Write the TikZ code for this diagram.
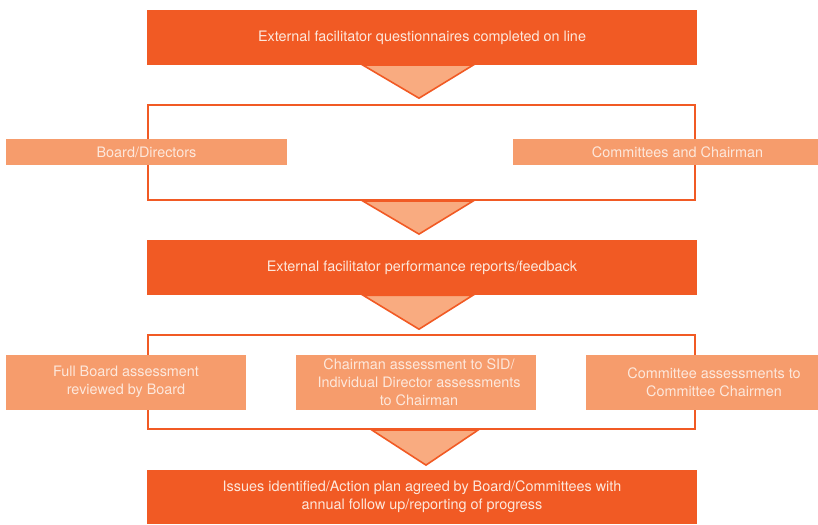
\documentclass[tikz,border=0pt]{standalone}
\usepackage{fontspec}
\setmainfont{TeX Gyre Heros}
\usepackage{tikz}
\usetikzlibrary{positioning}

\definecolor{darkor}{HTML}{F15A24}
\definecolor{lightor}{HTML}{F69C6C}
\definecolor{trior}{HTML}{F9AB80}
\definecolor{paletxt}{HTML}{FDE8DC}

\begin{document}
\begin{tikzpicture}[x=1pt, y=-1pt,
    step box/.style={rectangle, fill=darkor, text=paletxt, minimum width=550pt, inner sep=0pt,
                     font=\fontsize{14.4}{18}\selectfont, align=center},
    side box/.style={rectangle, fill=lightor, text=paletxt, inner sep=0pt,
                     font=\fontsize{14.4}{18}\selectfont, align=center},
    frame/.style={rectangle, draw=darkor, line width=2.2pt, minimum width=547pt, inner sep=0pt},
    tri/.style={fill=trior, draw=darkor, line width=1.6pt, line join=miter}]
      \useasboundingbox (0,0) rectangle (818,524);

      \node[step box, minimum height=55pt] (q1) at (422,37.5) {External facilitator questionnaires completed on line};
      \node[frame, minimum height=95pt] (f1) at (421.5,152.5) {};
      \node[side box, minimum width=281pt, minimum height=26pt] (bd) at (146.5,152) {Board/Directors};
      \node[side box, minimum width=305pt, minimum height=26pt] (cc) at (665.5,152) {\hspace*{24pt}Committees and Chairman};

      \node[step box, minimum height=55pt] (q2) at (422,267.5) {External facilitator performance reports/feedback};
      \node[frame, minimum height=94pt] (f2) at (421.5,382) {};
      \node[side box, minimum width=240pt, minimum height=55pt] (fb) at (126,382) {Full Board assessment\\reviewed by Board};
      \node[side box, minimum width=240pt, minimum height=55pt] (ca) at (416,382) {\hspace*{6pt}Chairman assessment to SID/\\\hspace*{6pt}Individual Director assessments\\\hspace*{6pt}to Chairman};
      \node[side box, minimum width=232pt, minimum height=55pt] (ce) at (702,382) {\hspace*{24pt}Committee assessments to\\\hspace*{24pt}Committee Chairmen};

      \node[step box, minimum height=54pt] (q3) at (422,497) {Issues identified/Action plan agreed by Board/Committees with\\annual follow up/reporting of progress};

      % arrows between the stages
      \draw[tri] ([xshift=-59pt]q1.south) -- ([xshift=51pt]q1.south) -- ([xshift=-3pt,yshift=-33pt]q1.south) -- cycle;
      \draw[tri] ([xshift=-58.5pt]f1.south) -- ([xshift=51.5pt]f1.south) -- ([xshift=-2.5pt,yshift=-33pt]f1.south) -- cycle;
      \draw[tri] ([xshift=-59pt]q2.south) -- ([xshift=51pt]q2.south) -- ([xshift=-3pt,yshift=-34pt]q2.south) -- cycle;
      \draw[tri] ([xshift=-49.5pt]f2.south) -- ([xshift=56.5pt]f2.south) -- ([xshift=4.5pt,yshift=-35pt]f2.south) -- cycle;
    \end{tikzpicture}
\end{document}
